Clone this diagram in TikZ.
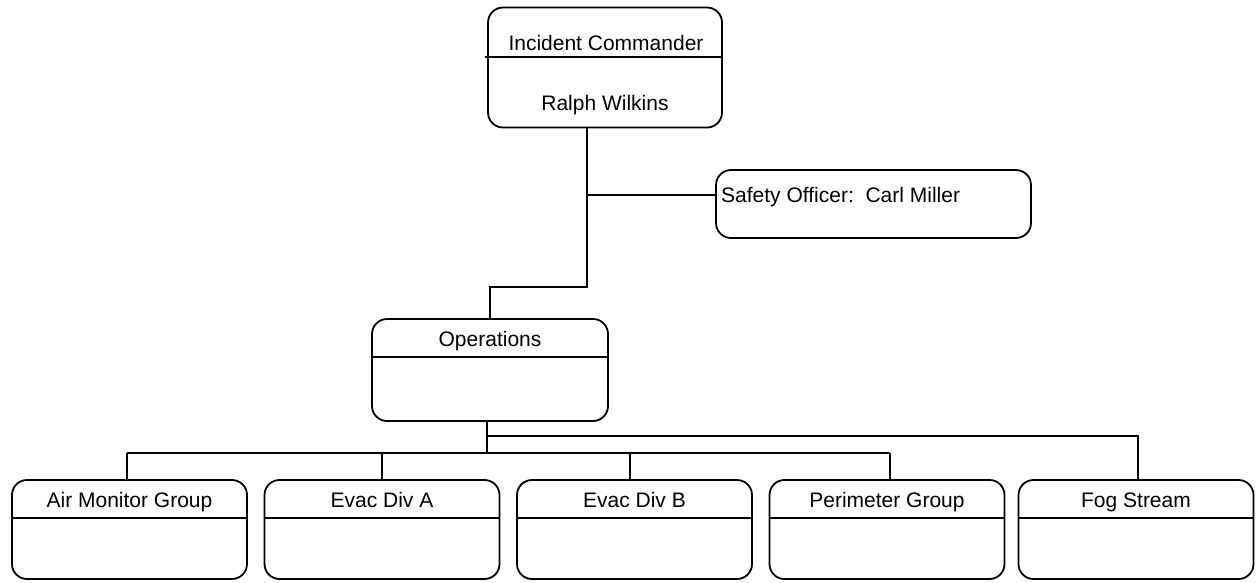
\documentclass[tikz,border=0pt]{standalone}
\usepackage{fontspec}
\setmainfont{Liberation Sans}
\begin{document}
\begin{tikzpicture}[x=1pt,y=-1pt,
  box/.style={draw=black, line width=1.8pt, rounded corners=15pt, fill=white, inner sep=0pt},
  lbl/.style={inner sep=0pt, anchor=base, font=\fontsize{21}{25}\selectfont},
  wire/.style={draw=black, line width=1.8pt},
  divider/.style={draw=black, line width=1.8pt}]
\useasboundingbox (0,0) rectangle (1256,582);
\fill[white] (0,0) rectangle (1256,582);

% Incident Commander
\node[box, minimum width=234pt, minimum height=120pt] (ic) at (605,67.5) {};
\draw[divider] (485,57) -- (ic.east |- 0,57);
\node[lbl] (ictitle) at (606,50) {Incident Commander};
\node[lbl] (icname) at (605,110) {Ralph Wilkins};

% Safety Officer
\node[box, minimum width=315pt, minimum height=68pt] (safety) at (873.5,204) {};
\node[lbl, anchor=base west] (safetytext) at (721,202) {Safety Officer:\ \ Carl Miller};

% Operations
\node[box, minimum width=236pt, minimum height=102pt] (ops) at (490,370) {};
\draw[divider] (ops.west |- 0,357) -- (ops.east |- 0,357);
\node[lbl] (opstitle) at (490,346) {Operations};

% Groups and divisions
\foreach \name/\cx/\txt in {air/129.5/Air Monitor Group, evaca/382/Evac Div A, evacb/634.5/Evac Div B, perim/887/Perimeter Group, fog/1136/Fog Stream}{
  \node[box, minimum width=235pt, minimum height=99pt] (\name) at (\cx,529.5) {};
  \draw[divider] (\name.west |- 0,518) -- (\name.east |- 0,518);
  \node[lbl] (\name title) at (\cx,507) {\txt};
}

% Command connectors
\coordinate (icfoot) at (587,128);
\coordinate (sobranch) at (587,195);
\coordinate (icbend) at (587,287);
\coordinate (opsbend) at (490,287);
\draw[wire] (icfoot) -- (icbend) -- (opsbend) -- (ops.north);
\draw[wire] (sobranch) -- (safety.west |- sobranch);

% Operations connectors
\coordinate (opsfoot) at (487,421);
\coordinate (opsbus) at (487,453);
\coordinate (opstap) at (487,436);
\coordinate (busleft) at (127,453);
\coordinate (busright) at (890,453);
\coordinate (fogbend) at (1138,436);
\draw[wire] (opsfoot) -- (opsbus);
\draw[wire] (busleft) -- (busright);
\draw[wire] (busleft) -- (busleft |- air.north);
\draw[wire] (382,453) -- (382,480);
\draw[wire] (630,453) -- (630,480);
\draw[wire] (busright) -- (busright |- perim.north);
\draw[wire] (opstap) -- (fogbend) -- (fogbend |- fog.north);
\end{tikzpicture}
\end{document}
